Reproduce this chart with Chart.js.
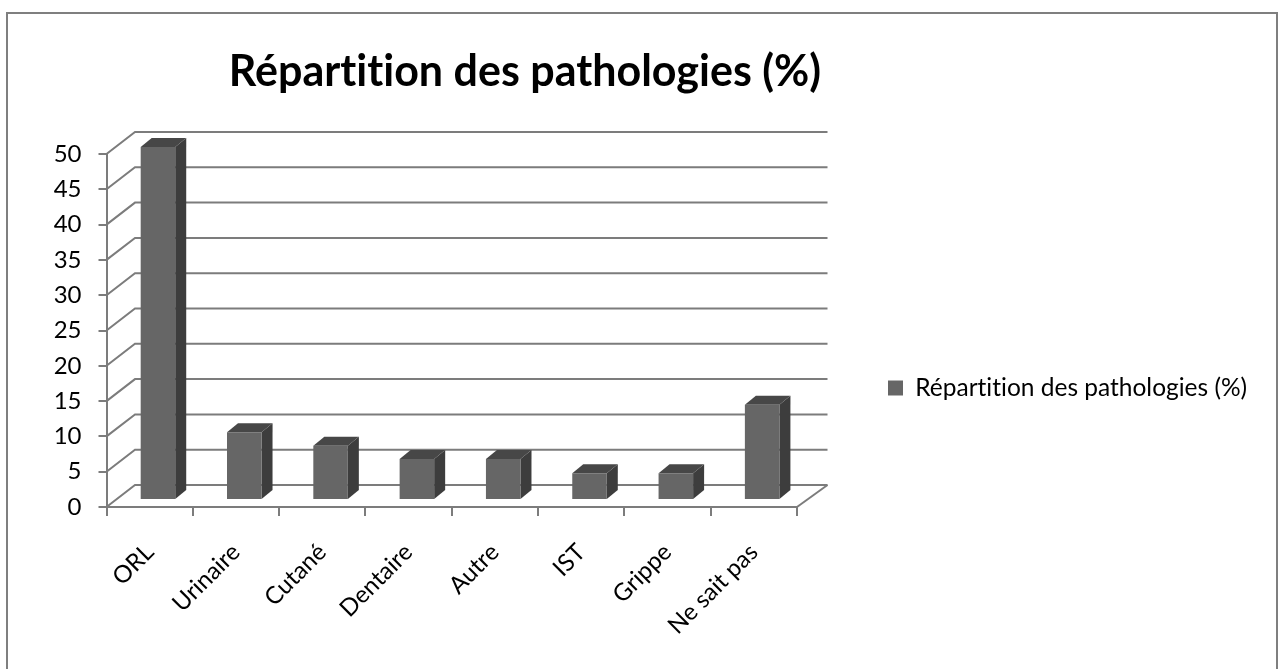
<!DOCTYPE html>
<html lang="fr">
<head>
<meta charset="utf-8">
<title>Répartition des pathologies (%)</title>
<script src="https://cdn.jsdelivr.net/npm/chart.js@4"></script>
<style>
  html, body { margin: 0; background: #fff; overflow: hidden; }
  #frame { position: absolute; left: 6px; top: 12px; width: 1268px; height: 670px;
           border: 2.5px solid #7f7f7f; }
  canvas { position: absolute; left: 0; top: 0; }
</style>
</head>
<body>
<div id="frame"></div>
<canvas id="chart" width="1282" height="669"></canvas>
<script>
const titleText = 'Répartition des pathologies (%)';
const categories = ['ORL', 'Urinaire', 'Cutané', 'Dentaire', 'Autre', 'IST', 'Grippe', 'Ne sait pas'];
const values = [50, 9.6, 7.7, 5.8, 5.8, 3.8, 3.8, 13.5];

const GRID = '#7c7c7c';
const FRONT = '#666666', SIDE = '#3d3d3d', TOP = '#474747';
const LEGEND_PAD = 10;

// 3d offsets: whole depth of the floor, and where the bars stand in it
const DEPTH_X = 28.5, DEPTH_Y = 22;
const BAR_SHIFT_X = 8.3, BAR_SHIFT_Y = 7;
const SIDE_X = 11, SIDE_Y = 9;

const fake3d = {
  id: 'fake3d',
  afterLayout(chart) {
    // title and legend do not sit where the layout puts them
    chart.titleBlock.left = 525 - 400;
    chart.titleBlock.right = 525 + 400;
    chart.legend.left = 888 - LEGEND_PAD;
    chart.legend.right = chart.legend.left + 400;
    chart.legend.top = 338;
    chart.legend.bottom = 438;
  },
  beforeDraw(chart) {
    // no ti ligature in the reference
    chart.ctx.textRendering = 'optimizeSpeed';
  },
  beforeDatasetsDraw(chart) {
    const { ctx, scales: { x, y } } = chart;
    ctx.save();
    ctx.strokeStyle = GRID;
    ctx.lineWidth = 2;
    y.ticks.forEach(t => {
      const py = y.getPixelForValue(t.value);
      ctx.beginPath();
      ctx.moveTo(y.right, py);
      ctx.lineTo(y.right + DEPTH_X, py - DEPTH_Y);
      ctx.lineTo(x.right + DEPTH_X + 2, py - DEPTH_Y);
      ctx.stroke();
    });
    const py0 = y.getPixelForValue(0);
    ctx.beginPath();
    ctx.moveTo(x.right, py0);
    ctx.lineTo(x.right + DEPTH_X + 2, py0 - DEPTH_Y);
    ctx.stroke();
    ctx.restore();
  },
  beforeDatasetDraw(chart, args) {
    const { ctx } = chart;
    ctx.save();
    ctx.translate(BAR_SHIFT_X, -BAR_SHIFT_Y);
    args.meta.data.forEach(bar => {
      const r = bar.x + bar.width / 2, l = bar.x - bar.width / 2;
      ctx.fillStyle = SIDE;
      ctx.beginPath();
      ctx.moveTo(r, bar.y);
      ctx.lineTo(r + SIDE_X, bar.y - SIDE_Y);
      ctx.lineTo(r + SIDE_X, bar.base - SIDE_Y);
      ctx.lineTo(r, bar.base);
      ctx.closePath();
      ctx.fill();
      ctx.fillStyle = TOP;
      ctx.beginPath();
      ctx.moveTo(l, bar.y);
      ctx.lineTo(l + SIDE_X, bar.y - SIDE_Y);
      ctx.lineTo(r + SIDE_X, bar.y - SIDE_Y);
      ctx.lineTo(r, bar.y);
      ctx.closePath();
      ctx.fill();
    });
  },
  afterDatasetDraw(chart) {
    chart.ctx.restore();
  }
};

new Chart(document.getElementById('chart'), {
  type: 'bar',
  data: {
    labels: categories,
    datasets: [{
      label: titleText,
      data: values,
      backgroundColor: FRONT,
      borderWidth: 0,
      categoryPercentage: 1,
      barPercentage: 0.4
    }]
  },
  plugins: [fake3d],
  options: {
    responsive: false,
    animation: false,
    layout: { autoPadding: false, padding: { right: 385 } },
    scales: {
      x: {
        offset: true,
        afterFit: s => { s.height = 162; },
        border: { color: GRID, width: 2 },
        grid: { offset: true, drawOnChartArea: false, color: GRID, lineWidth: 2, tickLength: 9 },
        ticks: {
          color: '#000',
          font: { family: 'Lato', size: 24 },
          minRotation: 45,
          maxRotation: 45,
          autoSkip: false,
          padding: 22,
          labelOffset: 0
        }
      },
      y: {
        min: 0,
        max: 50,
        afterFit: s => { s.width = 106.5; },
        border: { color: GRID, width: 2 },
        grid: { drawOnChartArea: false, color: GRID, lineWidth: 2, tickLength: 8 },
        ticks: {
          stepSize: 5,
          color: '#000',
          font: { family: 'Lato', size: 24 },
          padding: 17
        }
      }
    },
    plugins: {
      tooltip: { enabled: false },
      title: {
        display: true,
        text: titleText,
        color: '#000',
        font: { family: 'Lato', size: 43, weight: 'bold', lineHeight: 1.2 },
        padding: { top: 46, bottom: 56.4 }
      },
      legend: {
        position: 'right',
        maxWidth: 100,
        onClick: null,
        labels: {
          color: '#000',
          boxWidth: 15,
          boxHeight: 15,
          padding: LEGEND_PAD,
          font: { family: 'Lato', size: 24.5 }
        }
      }
    }
  }
});
</script>
</body>
</html>
